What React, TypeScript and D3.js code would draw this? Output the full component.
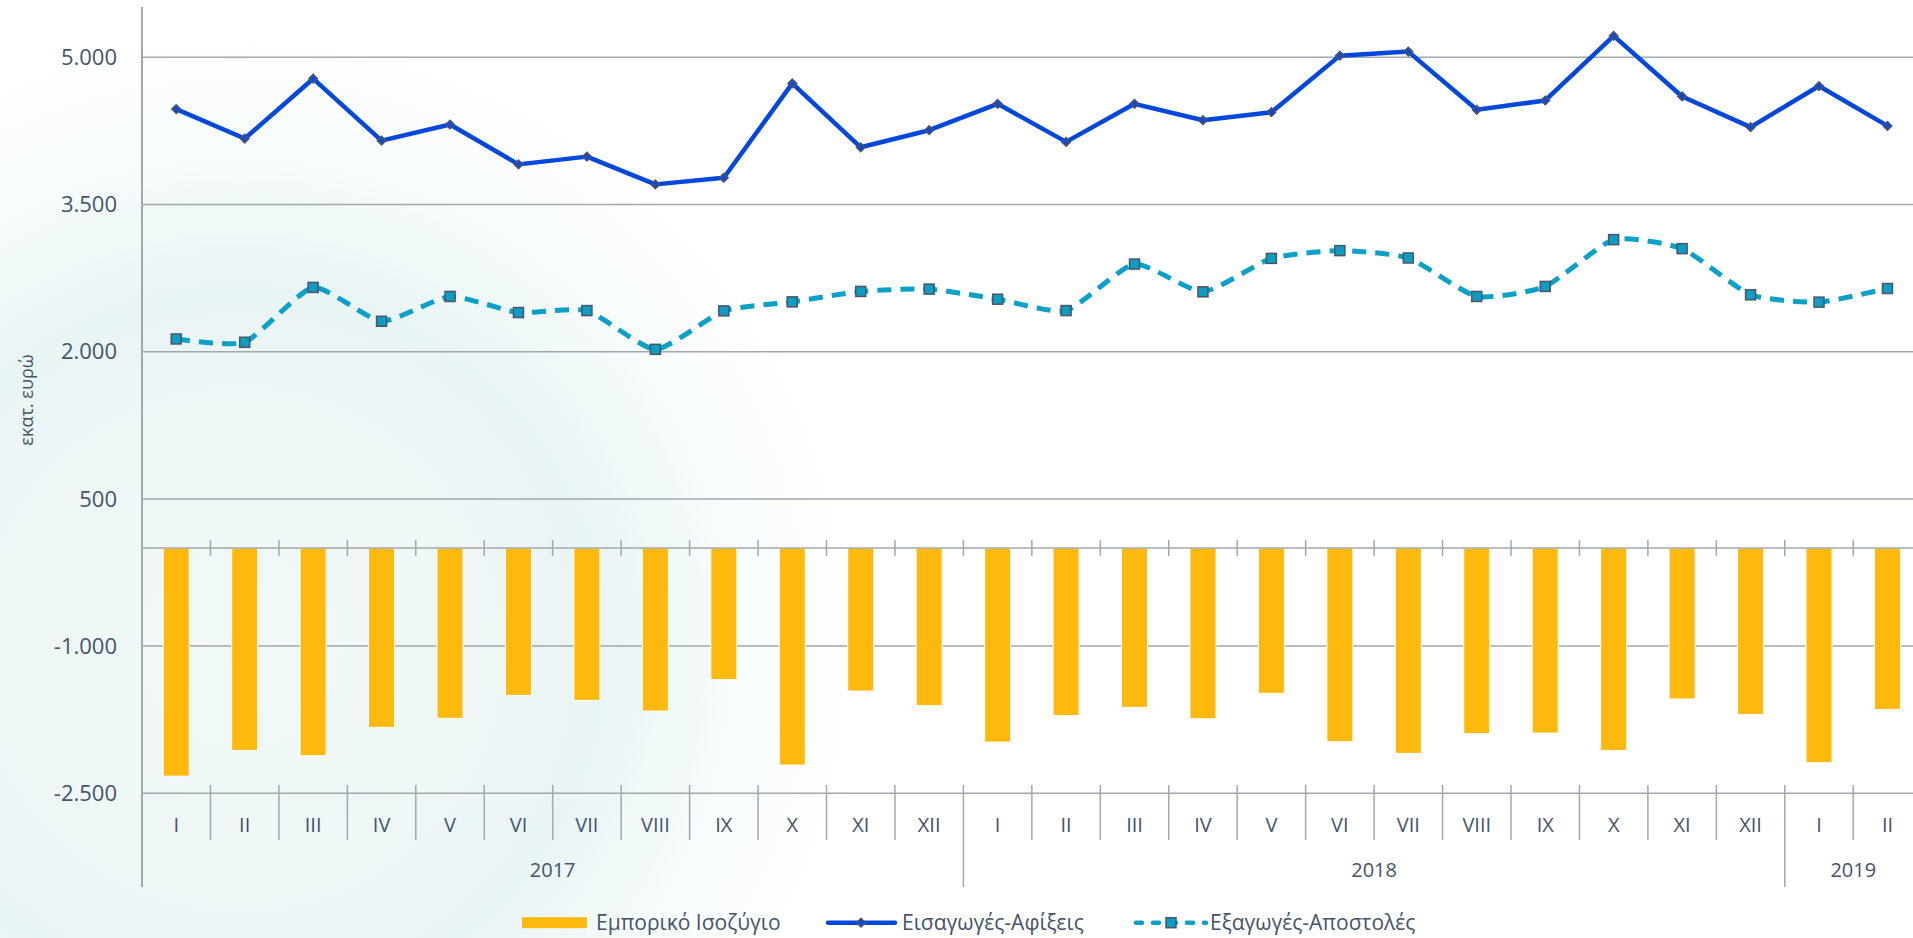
import React, { useEffect, useRef } from 'react';
import * as d3 from 'd3';

const months = ['I', 'II', 'III', 'IV', 'V', 'VI', 'VII', 'VIII', 'IX', 'X', 'XI', 'XII',
  'I', 'II', 'III', 'IV', 'V', 'VI', 'VII', 'VIII', 'IX', 'X', 'XI', 'XII', 'I', 'II'];
const years = [
  { label: '2017', start: 0, count: 12 },
  { label: '2018', start: 12, count: 12 },
  { label: '2019', start: 24, count: 2 },
];
const balance = [-2325, -2063, -2117, -1828, -1736, -1502, -1553, -1662, -1342, -2212, -1458, -1607,
  -1978, -1709, -1624, -1740, -1481, -1974, -2093, -1893, -1886, -2063, -1539, -1696, -2188, -1645];
const imports = [4472, 4172, 4782, 4151, 4315, 3909, 3988, 3705, 3773, 4734, 4083, 4257,
  4526, 4138, 4526, 4359, 4441, 5017, 5058, 4465, 4560, 5218, 4601, 4288, 4707, 4301];
const exportsVals = [2130, 2096, 2655, 2310, 2563, 2399, 2419, 2024, 2416, 2508, 2614, 2638,
  2535, 2419, 2893, 2610, 2951, 3030, 2955, 2563, 2665, 3142, 3050, 2580, 2505, 2644];
const yTicks = [-2500, -1000, 500, 2000, 3500, 5000];
const legendNames = ['Εμπορικό Ισοζύγιο', 'Εισαγωγές-Αφίξεις', 'Εξαγωγές-Αποστολές'];

const W = 1913;
const H = 938;
const textColor = '#44546a';
const gridColor = '#a3a7ae';
const barColor = '#ffb80c';
const impColor = '#0447dc';
const expColor = '#0aa0c8';
const font = '"Open Sans", "Noto Sans", sans-serif';

const App = () => {
  const svgRef = useRef<SVGSVGElement>(null);

  useEffect(() => {
    const root = d3.select(svgRef.current);
    root.selectAll('*').remove();

    const x0 = 142;
    const band = 68.45;
    const x = d3.scaleBand<number>()
      .domain(d3.range(months.length))
      .range([x0, x0 + band * months.length])
      .paddingInner(0)
      .paddingOuter(0);
    const y = d3.scaleLinear().domain([-2500, 5000]).range([793.3, 57.3]);
    const cx = (i: number) => (x(i) as number) + x.bandwidth() / 2;

    // soft background glow
    const defs = root.append('defs');
    const grad = defs.append('radialGradient')
      .attr('id', 'bgGlow')
      .attr('gradientUnits', 'userSpaceOnUse')
      .attr('cx', 240).attr('cy', 650).attr('r', 620);
    grad.append('stop').attr('offset', '0%').attr('stop-color', '#f1f8f8');
    grad.append('stop').attr('offset', '40%').attr('stop-color', '#eef6f6');
    grad.append('stop').attr('offset', '58%').attr('stop-color', '#e9f4f4');
    grad.append('stop').attr('offset', '78%').attr('stop-color', '#f6fbfb');
    grad.append('stop').attr('offset', '100%').attr('stop-color', '#ffffff');

    root.append('rect').attr('width', W).attr('height', H).attr('fill', '#ffffff');
    root.append('rect').attr('width', W).attr('height', H).attr('fill', 'url(#bgGlow)');

    // gridlines
    root.append('g')
      .selectAll('line')
      .data(yTicks)
      .enter().append('line')
      .attr('x1', x0).attr('x2', W)
      .attr('y1', d => y(d)).attr('y2', d => y(d))
      .attr('stroke', gridColor)
      .attr('stroke-width', 1.5);

    // y tick labels
    const fmt = (v: number) => d3.format(',')(v).replace(/,/g, '.').replace('\u2212', '-');
    root.append('g')
      .selectAll('text')
      .data(yTicks)
      .enter().append('text')
      .attr('x', 117)
      .attr('y', d => y(d))
      .attr('dy', '0.35em')
      .attr('text-anchor', 'end')
      .attr('font-family', font)
      .attr('font-size', 22)
      .attr('fill', textColor)
      .text(d => fmt(d));

    // y title
    root.append('text')
      .attr('transform', 'translate(33,400) rotate(-90)')
      .attr('text-anchor', 'middle')
      .attr('font-family', font)
      .attr('font-size', 18)
      .attr('fill', textColor)
      .text('εκατ. ευρώ');

    // bars
    const barW = 26;
    root.append('g')
      .selectAll('rect')
      .data(balance)
      .enter().append('rect')
      .attr('x', (d, i) => cx(i) - barW / 2)
      .attr('y', y(0))
      .attr('width', barW)
      .attr('height', d => y(d) - y(0))
      .attr('fill', barColor)
      .attr('stroke', '#ffffff')
      .attr('stroke-width', 1);

    // zero axis with ticks
    root.append('line')
      .attr('x1', x0).attr('x2', W)
      .attr('y1', y(0)).attr('y2', y(0))
      .attr('stroke', gridColor).attr('stroke-width', 1.5);
    root.append('g')
      .selectAll('line')
      .data(d3.range(1, months.length + 1))
      .enter().append('line')
      .attr('x1', i => x0 + i * band).attr('x2', i => x0 + i * band)
      .attr('y1', y(0) - 8).attr('y2', y(0) + 8)
      .attr('stroke', gridColor).attr('stroke-width', 1.5);

    // category separators
    const yearStarts = years.map(d => d.start);
    root.append('g')
      .selectAll('line')
      .data(d3.range(1, months.length + 1))
      .enter().append('line')
      .attr('x1', i => x0 + i * band).attr('x2', i => x0 + i * band)
      .attr('y1', 785)
      .attr('y2', i => (yearStarts.includes(i) ? 887 : 840))
      .attr('stroke', gridColor).attr('stroke-width', 1.5);

    // y axis line
    root.append('line')
      .attr('x1', x0).attr('x2', x0)
      .attr('y1', 7).attr('y2', 887)
      .attr('stroke', gridColor).attr('stroke-width', 2);

    // month labels
    root.append('g')
      .selectAll('text')
      .data(months)
      .enter().append('text')
      .attr('x', (d, i) => cx(i))
      .attr('y', 825)
      .attr('dy', '0.35em')
      .attr('text-anchor', 'middle')
      .attr('font-family', font)
      .attr('font-size', 20)
      .attr('fill', textColor)
      .text(d => d);

    // year labels
    root.append('g')
      .selectAll('text')
      .data(years)
      .enter().append('text')
      .attr('x', d => x0 + (d.start + 12 / 2) * band - (d.count < 12 ? (12 - d.count) * band / 2 : 0))
      .attr('y', 870)
      .attr('dy', '0.35em')
      .attr('text-anchor', 'middle')
      .attr('font-family', font)
      .attr('font-size', 20)
      .attr('fill', textColor)
      .text(d => d.label);

    // exports line (smoothed, dashed)
    const expLine = d3.line<number>()
      .x((d, i) => cx(i))
      .y(d => y(d))
      .curve(d3.curveCardinal.tension(0.45));
    root.append('path')
      .datum(exportsVals)
      .attr('d', expLine)
      .attr('fill', 'none')
      .attr('stroke', expColor)
      .attr('stroke-width', 5)
      .attr('stroke-dasharray', '14 9');
    root.append('g')
      .selectAll('rect')
      .data(exportsVals)
      .enter().append('rect')
      .attr('x', (d, i) => cx(i) - 5)
      .attr('y', d => y(d) - 5)
      .attr('width', 10).attr('height', 10)
      .attr('fill', '#0c9cc4')
      .attr('stroke', '#4a5566')
      .attr('stroke-width', 1.5);

    // imports line
    const impLine = d3.line<number>()
      .x((d, i) => cx(i))
      .y(d => y(d));
    root.append('path')
      .datum(imports)
      .attr('d', impLine)
      .attr('fill', 'none')
      .attr('stroke', impColor)
      .attr('stroke-width', 4.5)
      .attr('stroke-linejoin', 'round');
    const diamond = d3.symbol().type(d3.symbolDiamond2).size(50);
    root.append('g')
      .selectAll('path')
      .data(imports)
      .enter().append('path')
      .attr('transform', (d, i) => `translate(${cx(i)},${y(d)})`)
      .attr('d', diamond)
      .attr('fill', '#1a49c8')
      .attr('stroke', '#4a5566')
      .attr('stroke-width', 1.3);

    // legend
    const ly = 922.7;
    const lg = root.append('g').attr('font-family', font).attr('font-size', 21).attr('fill', textColor);
    lg.append('rect').attr('x', 522).attr('y', ly - 5.5).attr('width', 65).attr('height', 11).attr('fill', barColor);
    lg.append('text').attr('x', 596).attr('y', ly).attr('dy', '0.35em').text(legendNames[0]);

    lg.append('line').attr('x1', 828).attr('x2', 895).attr('y1', ly).attr('y2', ly)
      .attr('stroke', impColor).attr('stroke-width', 4.5).attr('stroke-linecap', 'round');
    lg.append('path').attr('transform', `translate(861,${ly})`).attr('d', diamond)
      .attr('fill', '#1a49c8').attr('stroke', '#4a5566').attr('stroke-width', 1.3);
    lg.append('text').attr('x', 902).attr('y', ly).attr('dy', '0.35em').text(legendNames[1]);

    lg.append('line').attr('x1', 1136).attr('x2', 1206).attr('y1', ly).attr('y2', ly)
      .attr('stroke', expColor).attr('stroke-width', 4.5).attr('stroke-linecap', 'round')
      .attr('stroke-dasharray', '6 11');
    lg.append('rect').attr('x', 1166).attr('y', ly - 5).attr('width', 10).attr('height', 10)
      .attr('fill', '#0c9cc4').attr('stroke', '#4a5566').attr('stroke-width', 1.5);
    lg.append('text').attr('x', 1210).attr('y', ly).attr('dy', '0.35em').text(legendNames[2]);
  }, []);

  return (
    <svg
      ref={svgRef}
      width={W}
      height={H}
      style={{ position: 'absolute', left: 0, top: 0, display: 'block' }}
    />
  );
};

export default App;
